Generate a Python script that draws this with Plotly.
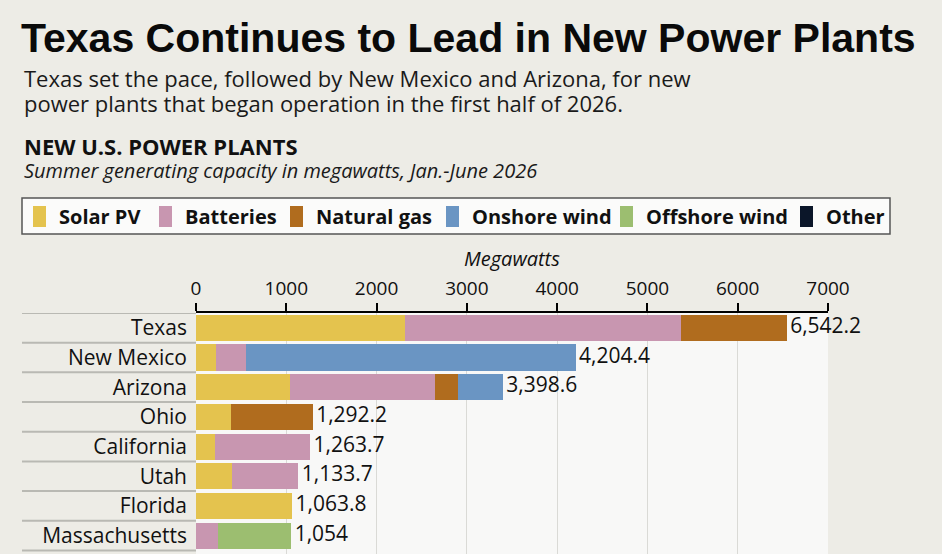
import plotly.graph_objects as go

# ---------------- data ----------------
states = ["Texas", "New Mexico", "Arizona", "Ohio", "California", "Utah", "Florida", "Massachusetts"]
solar_pv = [2310, 225, 1040, 384, 210, 403, 1063.8, 0]
batteries = [3060, 328, 1604, 0, 1053.7, 730.7, 0, 248]
natural_gas = [1172.2, 0, 254, 908.2, 0, 0, 0, 0]
onshore_wind = [0, 3651.4, 500.6, 0, 0, 0, 0, 0]
offshore_wind = [0, 0, 0, 0, 0, 0, 0, 806]
other = [0, 0, 0, 0, 0, 0, 0, 0]
totals = [6542.2, 4204.4, 3398.6, 1292.2, 1263.7, 1133.7, 1063.8, 1054]
x_ticks = [0, 1000, 2000, 3000, 4000, 5000, 6000, 7000]

series_names = ["Solar PV", "Batteries", "Natural gas", "Onshore wind", "Offshore wind", "Other"]
series_values = [solar_pv, batteries, natural_gas, onshore_wind, offshore_wind, other]
series_colors = ["#e4c34e", "#c896b0", "#b06c1e", "#6a95c3", "#9cbe70", "#0b1629"]

# ---------------- layout helpers ----------------
W, H = 942, 554
ML, MR, MT, MB = 196, 114, 313, 0
PH = H - MT - MB
PW = W - ML - MR


def py(p):  # pixel y -> paper y
    return 1 + (MT - p) / PH


def px(p):  # pixel x -> paper x
    return (p - ML) / PW


SANS = "Open Sans, Noto Sans, sans-serif"
TITLE_FONT = "Liberation Sans, Arial, sans-serif"

fig = go.Figure()
for name, vals, color in zip(series_names, series_values, series_colors):
    fig.add_trace(go.Bar(
        name=name, y=states, x=vals, orientation="h",
        marker=dict(color=color, line=dict(width=0)),
        width=0.88, hoverinfo="skip", showlegend=False,
    ))


def fmt(v):
    s = f"{v:,.1f}"
    return s[:-2] if s.endswith(".0") else s


fig.add_trace(go.Scatter(
    x=totals, y=states, mode="text", text=["\u2009" + fmt(v) for v in totals],
    textposition="middle right",
    textfont=dict(family=SANS, size=21, color="#111111"),
    showlegend=False, hoverinfo="skip", cliponaxis=False,
))

shapes = []
# row separators in the label column
for i in range(len(states) + 1):
    shapes.append(dict(
        type="line", xref="paper", yref="y",
        x0=px(22), x1=0, y0=i - 0.5, y1=i - 0.5,
        line=dict(color="#b9b9b3", width=2), layer="above",
    ))

# legend box (drawn by hand so it stays on one row)
LEG_TOP, LEG_BOT = 198, 234
shapes.append(dict(
    type="rect", xref="paper", yref="paper",
    x0=px(22), x1=px(890), y0=py(LEG_BOT), y1=py(LEG_TOP),
    fillcolor="#fbfbfa", line=dict(color="#555555", width=1.5), layer="above",
))
legend_x = [33, 159, 290, 446, 620, 800]
annotations = []
for name, color, lx in zip(series_names, series_colors, legend_x):
    shapes.append(dict(
        type="rect", xref="paper", yref="paper",
        x0=px(lx), x1=px(lx + 13), y0=py(227), y1=py(206),
        fillcolor=color, line=dict(width=0), layer="above",
    ))
    annotations.append(dict(
        text="<b>" + name + "</b>", x=px(lx + 24), y=py(216),
        xanchor="left", yanchor="middle",
        font=dict(family=SANS, size=20, color="#111111"),
    ))

annotations += [
    dict(text="<b>Texas Continues to Lead in New Power Plants</b>",
         x=px(19), y=py(38), xanchor="left", yanchor="middle",
         font=dict(family=TITLE_FONT, size=41, color="#0a0a0a")),
    dict(text="Texas set the pace, followed by New Mexico and Arizona, for new",
         x=px(22), y=py(78), xanchor="left", yanchor="middle",
         font=dict(family=SANS, size=22, color="#1a1a1a")),
    dict(text="power plants that began operation in the first half of 2026.",
         x=px(22), y=py(103), xanchor="left", yanchor="middle",
         font=dict(family=SANS, size=22, color="#1a1a1a")),
    dict(text="<b>NEW U.S. POWER PLANTS</b>",
         x=px(22), y=py(146), xanchor="left", yanchor="middle",
         font=dict(family=SANS, size=22, color="#111111")),
    dict(text="<i>Summer generating capacity in megawatts, Jan.-June 2026</i>",
         x=px(22), y=py(171), xanchor="left", yanchor="middle",
         font=dict(family=SANS, size=20, color="#1a1a1a")),
    dict(text="<i>Megawatts</i>",
         x=0.5, y=py(258), xanchor="center", yanchor="middle",
         font=dict(family=SANS, size=20, color="#111111")),
]
for a in annotations:
    a.update(xref="paper", yref="paper", showarrow=False)

fig.update_layout(
    width=W, height=H,
    margin=dict(l=ML, r=MR, t=MT, b=MB, autoexpand=False),
    paper_bgcolor="#edece6", plot_bgcolor="#f8f8f7",
    barmode="stack", bargap=0.12,
    showlegend=False,
    xaxis=dict(
        side="top", range=[0, 7000], tickvals=x_ticks,
        ticktext=[str(v) for v in x_ticks],
        showgrid=True, gridcolor="#dadad6", gridwidth=1, zeroline=False,
        showline=True, linecolor="#000000", linewidth=2,
        ticks="outside", ticklen=8, tickwidth=1.5, tickcolor="#000000",
        tickfont=dict(family=SANS, size=19, color="#111111"),
        fixedrange=True,
    ),
    yaxis=dict(
        type="category", categoryorder="array", categoryarray=states,
        range=[len(states) - 0.38, -0.5],
        showgrid=False, zeroline=False, showline=False, ticks="",
        ticklabelstandoff=8,
        tickfont=dict(family=SANS, size=21, color="#111111"),
        fixedrange=True,
    ),
    shapes=shapes, annotations=annotations,
)

fig.write_html(
    "out.html",
    config={"displayModeBar": False},
    post_script="document.body.style.margin='0px';document.body.style.overflow='hidden';",
)
